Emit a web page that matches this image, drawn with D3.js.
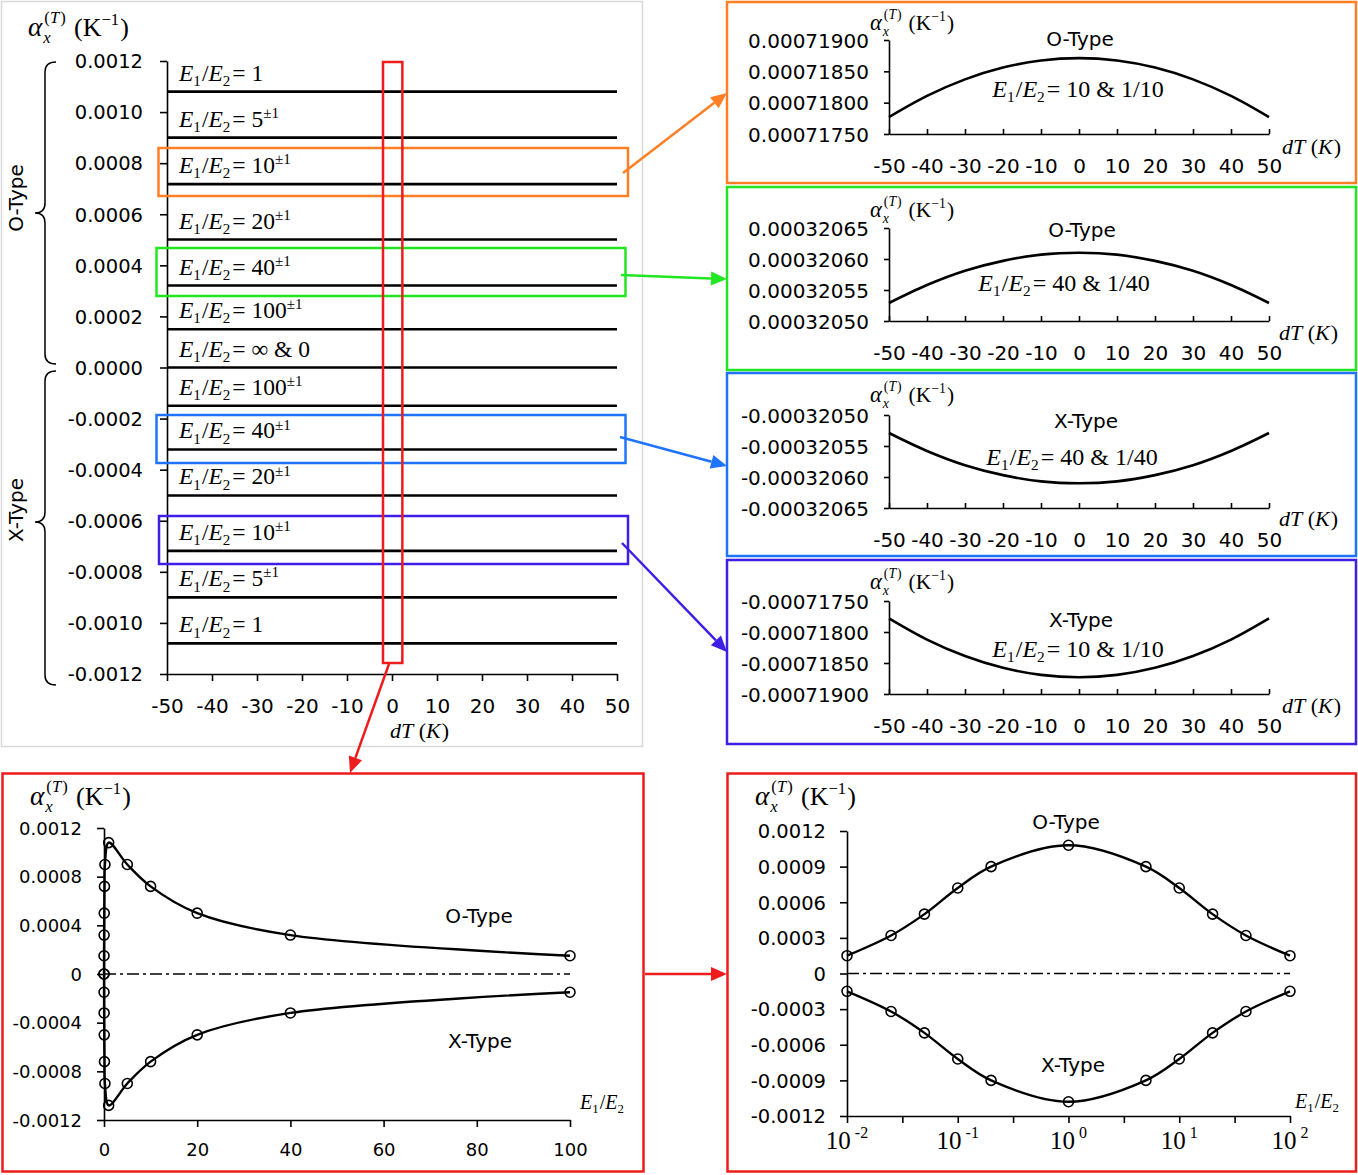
<!DOCTYPE html>
<html><head><meta charset="utf-8">
<script src="https://cdn.jsdelivr.net/npm/d3@7"></script>
<style>body{margin:0;background:#fff} svg{display:block}</style>
</head><body>
<svg id="c" width="1358" height="1175"></svg>
<script>
// ---------------- DATA ----------------
const dTTicks = [-50,-40,-30,-20,-10,0,10,20,30,40,50];
const mainYTicks = [0.0012,0.0010,0.0008,0.0006,0.0004,0.0002,0,-0.0002,-0.0004,-0.0006,-0.0008,-0.0010,-0.0012];
const rowRatios = ["1","5","10","20","40","100","\u221E & 0","100","40","20","10","5","1"];
const rowHasPM  = [false,true,true,true,true,true,false,true,true,true,true,true,false];
const rowValues = [0.00108,0.0009,0.000718,0.000501,0.000321,0.00015,0,-0.00015,-0.000321,-0.000501,-0.000718,-0.0009,-0.00108];
const rowDT = [-50, 50];

const detailDT = [-50,-40,-30,-20,-10,0,10,20,30,40,50];
const oType10 = [0.00071777,0.000718108,0.000718372,0.00071856,0.000718672,0.00071871,0.000718672,0.00071856,0.000718372,0.000718108,0.00071777];
const oType40 = [0.000320529,0.000320558,0.000320581,0.000320597,0.000320607,0.00032061,0.000320607,0.000320597,0.000320581,0.000320558,0.000320529];
const xType40 = [-0.000320529,-0.000320558,-0.000320581,-0.000320597,-0.000320607,-0.00032061,-0.000320607,-0.000320597,-0.000320581,-0.000320558,-0.000320529];
const xType10 = [-0.00071778,-0.000718122,-0.000718388,-0.000718578,-0.000718692,-0.00071873,-0.000718692,-0.000718578,-0.000718388,-0.000718122,-0.00071778];
const o10Ticks = [0.0007175,0.0007180,0.0007185,0.0007190];
const o40Ticks = [0.0003205,0.00032055,0.0003206,0.00032065];
const x40Ticks = [-0.0003205,-0.00032055,-0.0003206,-0.00032065];
const x10Ticks = [-0.0007175,-0.0007180,-0.0007185,-0.0007190];

const ratioX     = [0.01,0.025,0.05,0.1,0.2,1,5,10,20,40,100];
const oTypeAlpha = [0.00015,0.00032,0.0005,0.00072,0.0009,0.00108,0.0009,0.00072,0.0005,0.00032,0.00015];
const xTypeAlpha = [-0.00015,-0.00032,-0.0005,-0.00072,-0.0009,-0.00108,-0.0009,-0.00072,-0.0005,-0.00032,-0.00015];
const zeroRatio = 0, zeroAlpha = 0;   // E1/E2 = 0 point
const linXTicks = [0,20,40,60,80,100];
const linYTicks = [0.0012,0.0008,0.0004,0,-0.0004,-0.0008,-0.0012];
const logYTicks = [0.0012,0.0009,0.0006,0.0003,0,-0.0003,-0.0006,-0.0009,-0.0012];
const logXTicks = [0.01,0.1,1,10,100];
const logExps   = ["-2","-1","0","1","2"];
const logMinorTicks = [0.0316,0.316,3.16,31.6];

// ---------------- HELPERS ----------------
const SANS = "'DejaVu Sans', sans-serif";
const SERIF = "'Liberation Serif', 'Times New Roman', serif";
const svg = d3.select('#c');
svg.append('rect').attr('width',1358).attr('height',1175).attr('fill','#fff');
const fix = s => s.replace(/\u2212/g,'-');

function rich(g, x, y, parts, anchor) {
  const grp = g.append('g');
  let cx = 0, mark = 0, maxX = 0;
  parts.forEach(p => {
    if (p.mark) mark = cx;
    if (p.back) cx = mark;
    if (p.toMax) cx = maxX;
    cx += (p.gap || 0);
    const t = grp.append('text')
      .attr('x', cx).attr('y', p.dy || 0)
      .style('font-family', p.f || SERIF)
      .style('font-size', p.s + 'px')
      .style('font-style', p.i ? 'italic' : 'normal')
      .style('white-space', 'pre')
      .attr('fill','#000')
      .text(p.t);
    cx += t.node().getComputedTextLength();
    maxX = Math.max(maxX, cx);
  });
  let ox = x;
  if (anchor === 'middle') ox = x - maxX/2; else if (anchor === 'end') ox = x - maxX;
  grp.attr('transform', `translate(${ox},${y})`);
  return grp;
}
function alphaTitle(g, x, y, s) {
  const ss = s*0.64;
  return rich(g, x, y, [
    {t:'\u03B1', s:s*1.05, i:true},
    {t:'x', s:ss, i:true, dy:s*0.28, mark:true, gap:1},
    {t:'(', s:ss, dy:-s*0.5, back:true, gap:2},
    {t:'T', s:ss, i:true, dy:-s*0.5},
    {t:')', s:ss, dy:-s*0.5, gap:1},
    {t:'(K', s, toMax:true, gap:s*0.32},
    {t:'\u22121', s:ss, dy:-s*0.42},
    {t:')', s, gap:1}
  ]);
}
function eLabel(g, x, y, s, rhs, sup, anchor) {
  const ss = s*0.64;
  const parts = [
    {t:'E', s, i:true},
    {t:'1', s:ss, dy:s*0.22},
    {t:'/', s, gap:1},
    {t:'E', s, i:true},
    {t:'2', s:ss, dy:s*0.22}
  ];
  if (rhs !== null) parts.push({t:'= ' + rhs, s, gap:2});
  if (sup) parts.push({t:'\u00B11', s:ss, dy:-s*0.38});
  return rich(g, x, y, parts, anchor);
}
function dTLabel(g, x, y, s) {
  return rich(g, x, y, [
    {t:'dT', s, i:true}, {t:'(', s, gap:s*0.25}, {t:'K', s, i:true}, {t:')', s, gap:1}
  ]);
}
function styleAxis(sel, fs, family) {
  sel.select('.domain').attr('stroke','#000').attr('stroke-width',1.6);
  sel.selectAll('.tick line').attr('stroke','#000').attr('stroke-width',1.6);
  sel.selectAll('.tick text').attr('fill','#000').style('font-family',family).style('font-size',fs+'px');
}
function arrow(x1,y1,x2,y2,color) {
  const dx = x2-x1, dy = y2-y1, L = Math.hypot(dx,dy), ux = dx/L, uy = dy/L;
  const hl = 16, hw = 7;
  const bx = x2-ux*hl, by = y2-uy*hl;
  svg.append('line').attr('x1',x1).attr('y1',y1).attr('x2',bx).attr('y2',by)
    .attr('stroke',color).attr('stroke-width',2.5);
  svg.append('polygon').attr('points',
    `${x2},${y2} ${bx-uy*hw},${by+ux*hw} ${bx+uy*hw},${by-ux*hw}`).attr('fill',color);
}
function brace(xTip, xBar, xEnd, y0, yMid, y1) {
  const r = 10;
  svg.append('path').attr('d',
    `M${xEnd},${y0} Q${xBar},${y0} ${xBar},${y0+r} L${xBar},${yMid-r} Q${xBar},${yMid} ${xTip},${yMid}
     Q${xBar},${yMid} ${xBar},${yMid+r} L${xBar},${y1-r} Q${xBar},${y1} ${xEnd},${y1}`)
    .attr('fill','none').attr('stroke','#000').attr('stroke-width',1.5);
}

// ---------------- MAIN PANEL ----------------
svg.append('rect').attr('x',1.5).attr('y',1.5).attr('width',641).attr('height',745)
  .attr('fill','none').attr('stroke','#d9d9d9').attr('stroke-width',1.5);
const gm = svg.append('g');
const xMain = d3.scaleLinear().domain([-50,50]).range([167,617]);
const yMain = d3.scaleLinear().domain([-0.0012,0.0012]).range([674,61]);

const ay = gm.append('g').attr('transform','translate(167,0)')
  .call(d3.axisLeft(yMain).tickValues(mainYTicks).tickSize(7).tickSizeOuter(0)
    .tickFormat(v => fix(d3.format('.4f')(v))));
styleAxis(ay, 19.5, SANS);
ay.selectAll('.tick text').attr('x',-24).attr('dy','0.35em');
const ax = gm.append('g').attr('transform','translate(0,674)')
  .call(d3.axisBottom(xMain).tickValues(dTTicks).tickSize(7).tickSizeOuter(0)
    .tickFormat(v => fix(String(v))));
styleAxis(ax, 20, SANS);
ax.selectAll('.tick text').attr('y',32).attr('dy','0.35em');
dTLabel(gm, 390, 738, 22);
alphaTitle(gm, 28, 36, 26);

const lineMain = d3.line().x(d => xMain(d[0])).y(d => yMain(d[1]));
rowValues.forEach((v,i) => {
  gm.append('path').datum(rowDT.map(t => [t, v])).attr('d', lineMain)
    .attr('fill','none').attr('stroke','#000').attr('stroke-width',2.6);
  eLabel(gm, 179, yMain(v) - 11, 23.5, rowRatios[i], rowHasPM[i], 'start');
});

// side labels + braces
brace(35, 45, 56, 62, 213, 364);
brace(35, 45, 56, 371, 522, 685);
svg.append('text').attr('transform','translate(23,198) rotate(-90)').attr('text-anchor','middle')
  .style('font-family',SANS).style('font-size','20px').text('O-Type');
svg.append('text').attr('transform','translate(23,510) rotate(-90)').attr('text-anchor','middle')
  .style('font-family',SANS).style('font-size','20px').text('X-Type');

// highlight boxes
const boxes = [
  {x:158.5, y:148, w:469.5, h:48, c:'#ff7f27', a:[623,173,727,93]},
  {x:156.5, y:248, w:469, h:48, c:'#22e622', a:[621,275,727,279]},
  {x:156.5, y:415, w:469, h:48, c:'#1f74ff', a:[620,437,727,466]},
  {x:159, y:516, w:469, h:48, c:'#3f1fe6', a:[622,543,727,652]}
];
boxes.forEach(b => {
  svg.append('rect').attr('x',b.x).attr('y',b.y).attr('width',b.w).attr('height',b.h)
    .attr('fill','none').attr('stroke',b.c).attr('stroke-width',2.5);
  arrow(b.a[0],b.a[1],b.a[2],b.a[3],b.c);
});
svg.append('rect').attr('x',xMain(-2)).attr('y',62).attr('width',xMain(2.3)-xMain(-2)).attr('height',601)
  .attr('fill','none').attr('stroke','#ee1c1c').attr('stroke-width',2.5);
arrow(389,664,350,773,'#ee1c1c');
arrow(645,974,727,974,'#ee1c1c');

// ---------------- DETAIL PANELS ----------------
const xD = d3.scaleLinear().domain([-50,50]).range([889,1269]);
const details = [
  {box:[727,2,629,181], c:'#ff7f27', dom:[0.0007175,0.000719], rng:[134,40], ticks:o10Ticks, data:oType10,
   type:'O-Type', tp:[1080,46], e:'10 & 1/10', ep:[1078,97], ty:30, dt:[1282,154]},
  {box:[727,187,629,183], c:'#22e622', dom:[0.0003205,0.00032065], rng:[321,228], ticks:o40Ticks, data:oType40,
   type:'O-Type', tp:[1082,237], e:'40 & 1/40', ep:[1064,291], ty:217, dt:[1279,340]},
  {box:[727,373,629,183], c:'#1f74ff', dom:[-0.00032065,-0.0003205], rng:[508,415], ticks:x40Ticks, data:xType40,
   type:'X-Type', tp:[1086,428], e:'40 & 1/40', ep:[1072,465], ty:402, dt:[1279,526]},
  {box:[727,560,629,184], c:'#3f1fe6', dom:[-0.000719,-0.0007175], rng:[694,601], ticks:x10Ticks, data:xType10,
   type:'X-Type', tp:[1081,627], e:'10 & 1/10', ep:[1078,657], ty:589, dt:[1282,713]}
];
details.forEach(d => {
  svg.append('rect').attr('x',d.box[0]).attr('y',d.box[1]).attr('width',d.box[2]).attr('height',d.box[3])
    .attr('fill','none').attr('stroke',d.c).attr('stroke-width',2.5);
  const g = svg.append('g');
  const y = d3.scaleLinear().domain(d.dom).range(d.rng);
  const axY = g.append('g').attr('transform','translate(889,0)')
    .call(d3.axisLeft(y).tickValues(d.ticks).tickSize(5).tickSizeOuter(0)
      .tickFormat(v => fix(d3.format('.8f')(v))));
  styleAxis(axY, 20, SANS);
  axY.selectAll('.tick text').attr('x',-20).attr('dy','0.35em');
  const axX = g.append('g').attr('transform',`translate(0,${d.rng[0]})`)
    .call(d3.axisBottom(xD).tickValues(dTTicks).tickSize(-5).tickSizeOuter(0)
      .tickFormat(v => fix(String(v))));
  styleAxis(axX, 20, SANS);
  axX.selectAll('.tick text').attr('y',32).attr('dy','0.35em');
  g.append('path').datum(detailDT.map((t,i) => [t, d.data[i]]))
    .attr('d', d3.line().x(p => xD(p[0])).y(p => y(p[1])).curve(d3.curveCatmullRom.alpha(0.5)))
    .attr('fill','none').attr('stroke','#000').attr('stroke-width',2.6);
  g.append('text').attr('x',d.tp[0]).attr('y',d.tp[1]).attr('text-anchor','middle')
    .style('font-family',SANS).style('font-size','20px').text(d.type);
  eLabel(g, d.ep[0], d.ep[1], 24, d.e, false, 'middle');
  alphaTitle(g, 870, d.ty, 21.5);
  dTLabel(g, d.dt[0], d.dt[1], 22);
});

// ---------------- BOTTOM LEFT (linear) ----------------
svg.append('rect').attr('x',2.5).attr('y',773.5).attr('width',641).attr('height',398)
  .attr('fill','none').attr('stroke','#ee1c1c').attr('stroke-width',2.5);
const gl = svg.append('g');
const xL = d3.scaleLinear().domain([0,100]).range([104,570]);
const yL = d3.scaleLinear().domain([-0.0012,0.0012]).range([1120,828]);
const fmtAlpha = v => v === 0 ? '0' : fix(d3.format('.4f')(v));
const lay = gl.append('g').attr('transform','translate(104,0)')
  .call(d3.axisLeft(yL).tickValues(linYTicks).tickSize(7).tickSizeOuter(0).tickFormat(fmtAlpha));
styleAxis(lay, 18, SANS);
lay.selectAll('.tick text').attr('x',-22).attr('dy','0.35em');
const lax = gl.append('g').attr('transform','translate(0,1120)')
  .call(d3.axisBottom(xL).tickValues(linXTicks).tickSize(7).tickSizeOuter(0));
styleAxis(lax, 18, SANS);
lax.selectAll('.tick text').attr('y',30).attr('dy','0.35em');
gl.append('line').attr('x1',xL(0)).attr('x2',xL(100)).attr('y1',yL(0)).attr('y2',yL(0))
  .attr('stroke','#000').attr('stroke-width',1.3).attr('stroke-dasharray','12,4,3,4');
const linCurve = d3.line().x(p => xL(p[0])).y(p => yL(p[1])).curve(d3.curveCatmullRom.alpha(0.5));
[oTypeAlpha, xTypeAlpha].forEach(arr => {
  const pts = [[zeroRatio, zeroAlpha]].concat(ratioX.map((r,i) => [r, arr[i]]));
  gl.append('path').datum(pts).attr('d', linCurve).attr('fill','none').attr('stroke','#000').attr('stroke-width',2.4);
  gl.selectAll(null).data(pts).enter().append('circle')
    .attr('cx', p => xL(p[0])).attr('cy', p => yL(p[1])).attr('r',5)
    .attr('fill','none').attr('stroke','#000').attr('stroke-width',1.6);
});
gl.append('text').attr('x',479).attr('y',923).attr('text-anchor','middle')
  .style('font-family',SANS).style('font-size','20px').text('O-Type');
gl.append('text').attr('x',480).attr('y',1048).attr('text-anchor','middle')
  .style('font-family',SANS).style('font-size','20px').text('X-Type');
eLabel(gl, 580, 1109, 20, null, false, 'start');
alphaTitle(gl, 30, 805, 26);

// ---------------- BOTTOM RIGHT (log) ----------------
svg.append('rect').attr('x',727.5).attr('y',773.5).attr('width',628.5).attr('height',398)
  .attr('fill','none').attr('stroke','#ee1c1c').attr('stroke-width',2.5);
const gr = svg.append('g');
const xR = d3.scaleLog().domain([0.01,100]).range([847,1290]);
const yR = d3.scaleLinear().domain([-0.0012,0.0012]).range([1116,831]);
const ray = gr.append('g').attr('transform','translate(847,0)')
  .call(d3.axisLeft(yR).tickValues(logYTicks).tickSize(7).tickSizeOuter(0).tickFormat(fmtAlpha));
styleAxis(ray, 19.5, SANS);
ray.selectAll('.tick text').attr('x',-21).attr('dy','0.35em');
const rax = gr.append('g').attr('transform','translate(0,1116)')
  .call(d3.axisBottom(xR).tickValues(logXTicks.concat(logMinorTicks)).tickSize(7).tickSizeOuter(0).tickFormat(''));
styleAxis(rax, 18, SANS);
logXTicks.forEach((v,i) => {
  rich(gr, xR(v), 1149, [{t:'10', s:25}, {t:logExps[i], s:16, dy:-11, gap:4}], 'middle');
});
gr.append('line').attr('x1',xR(0.01)).attr('x2',xR(100)).attr('y1',yR(0)).attr('y2',yR(0))
  .attr('stroke','#000').attr('stroke-width',1.3).attr('stroke-dasharray','12,4,3,4');
const logCurve = d3.line().x(p => xR(p[0])).y(p => yR(p[1])).curve(d3.curveCatmullRom.alpha(0.5));
[oTypeAlpha, xTypeAlpha].forEach(arr => {
  const pts = ratioX.map((r,i) => [r, arr[i]]);
  gr.append('path').datum(pts).attr('d', logCurve).attr('fill','none').attr('stroke','#000').attr('stroke-width',2.4);
  gr.selectAll(null).data(pts).enter().append('circle')
    .attr('cx', p => xR(p[0])).attr('cy', p => yR(p[1])).attr('r',5)
    .attr('fill','none').attr('stroke','#000').attr('stroke-width',1.6);
});
gr.append('text').attr('x',1066).attr('y',829).attr('text-anchor','middle')
  .style('font-family',SANS).style('font-size','20px').text('O-Type');
gr.append('text').attr('x',1073).attr('y',1072).attr('text-anchor','middle')
  .style('font-family',SANS).style('font-size','20px').text('X-Type');
eLabel(gr, 1295, 1108, 20, null, false, 'start');
alphaTitle(gr, 755, 805, 26);
</script>
</body></html>
